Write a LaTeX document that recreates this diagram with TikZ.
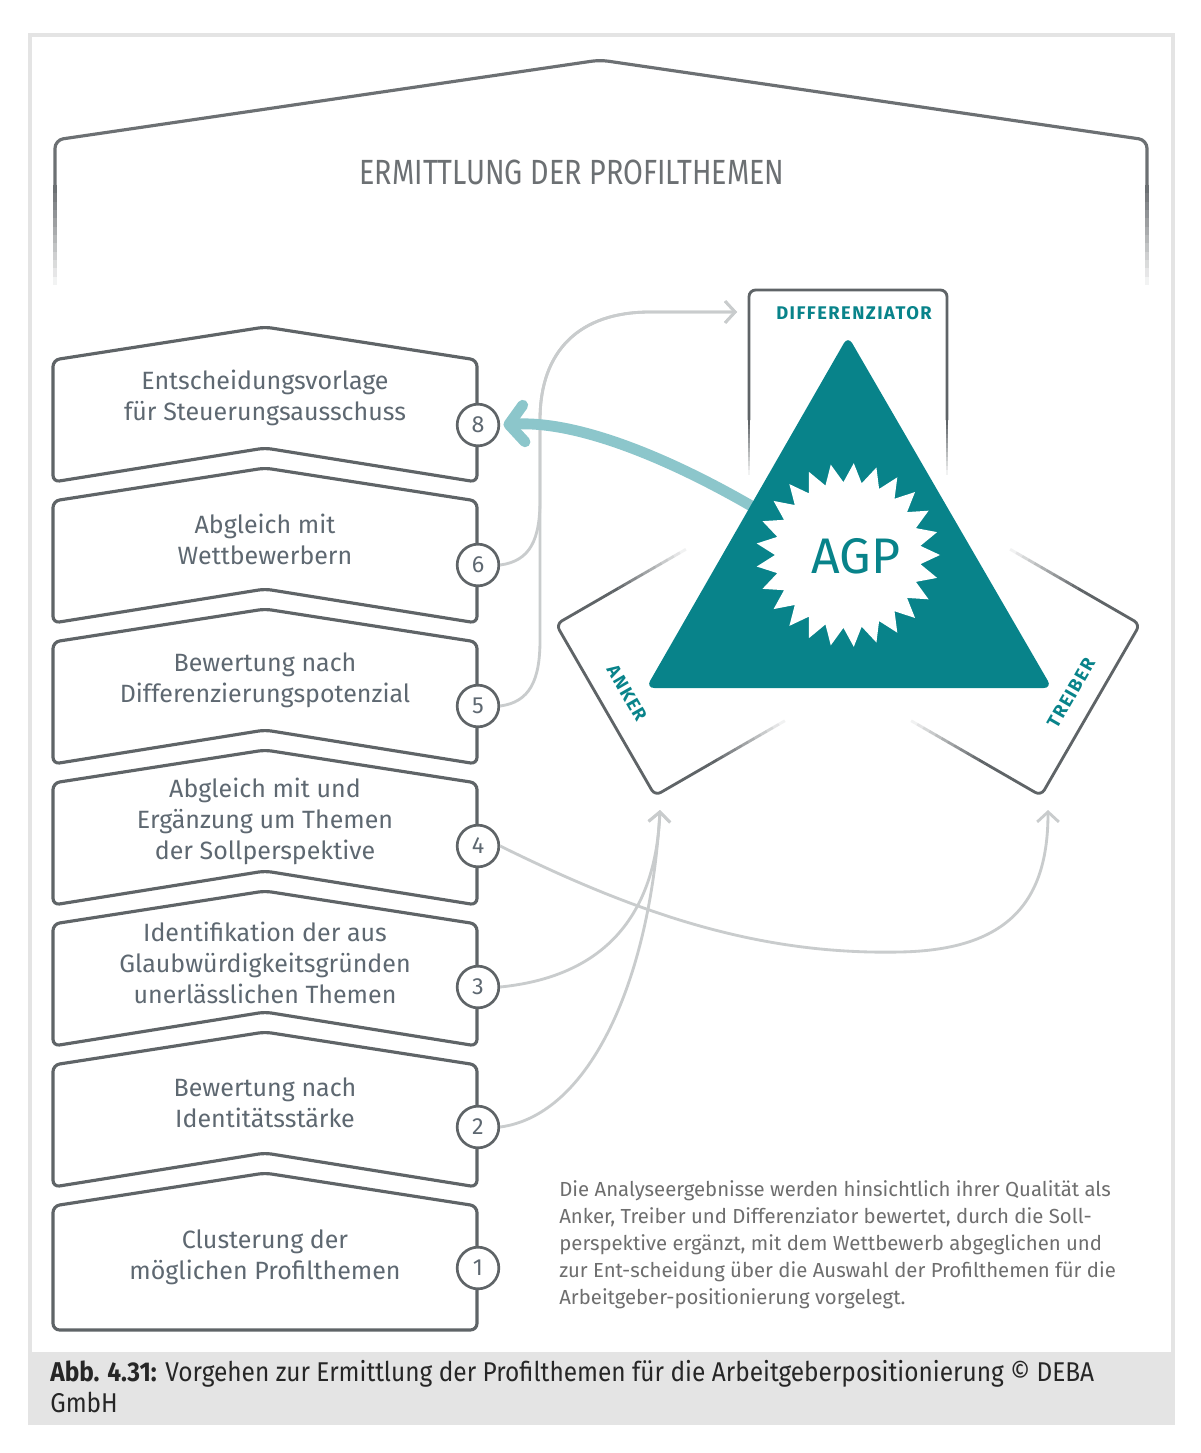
\documentclass[tikz,border=0pt]{standalone}
\usepackage{fontspec}
\setmainfont{Fira Sans}
\newfontfamily\condfont[FakeStretch=0.82]{Fira Sans}
\newfontfamily\capfont[FakeStretch=0.9]{Fira Sans}
\newfontfamily\lblfont[LetterSpace=8.0]{Fira Sans}
\usetikzlibrary{arrows.meta,calc}
\definecolor{agpteal}{HTML}{08838A}
\definecolor{lightteal}{HTML}{8CC6CB}
\definecolor{boxgray}{HTML}{5F6467}
\definecolor{roofgray}{HTML}{6C7073}
\definecolor{txtgray}{HTML}{5E6871}
\definecolor{conngray}{HTML}{C9CCCD}
\definecolor{framegray}{HTML}{E4E4E4}
\definecolor{descgray}{HTML}{6E6E6E}
\tikzset{
  stepbox/.style={draw=boxgray, line width=1.9pt, rounded corners=4pt, fill=white},
  numc/.style={circle, draw=boxgray, line width=1.6pt, fill=white, minimum size=25pt, inner sep=0pt, font=\fontsize{14}{14}\selectfont, text=txtgray},
  steptext/.style={align=center, font=\fontsize{15}{18.6}\selectfont, text=txtgray},
  conn/.style={draw=conngray, line width=1.7pt, -{Straight Barb[length=6pt,width=13pt]}},
  bigarrow/.style={draw=lightteal, line width=6.5pt, -{Straight Barb[round,length=9pt,width=22pt]}, shorten >=2pt},
  sidebox/.style={draw=boxgray, line width=1.7pt, rounded corners=4pt},
  sidelabel/.style={text=agpteal, font=\lblfont\bfseries\fontsize{11}{11}\selectfont, inner sep=1pt},
}
\newcommand\fadeseg[5]{%
  \foreach \i [evaluate=\i as \op using 1-\i/12, evaluate=\i as \ta using \i/12, evaluate=\i as \tb using (\i+1)/12] in {0,...,11}{
    \draw[#5, draw opacity=\op] ({#1+(#3-#1)*\ta},{#2+(#4-#2)*\ta}) -- ({#1+(#3-#1)*\tb},{#2+(#4-#2)*\tb});
  }}
\begin{document}
\begin{tikzpicture}[x=0.6pt,y=-0.6pt]
\useasboundingbox[fill=white] (0,0) rectangle (1200,1453);
% frame and caption band
\fill[framegray] (30,1352) rectangle (1173,1425);
\draw[framegray, line width=2pt] (30,1425) -- (30,35) -- (1173,35) -- (1173,1425);
% house roof
\draw[draw=roofgray, line width=1.9pt, rounded corners=5pt] (55,185) -- (55,140) -- (600,60) -- (1147,140) -- (1147,185);
\fadeseg{55}{185}{55}{285}{draw=roofgray, line width=1.9pt}
\fadeseg{1147}{185}{1147}{285}{draw=roofgray, line width=1.9pt}
\node[text=roofgray, font=\condfont\fontsize{21}{21}\selectfont] (title) at (572,172) {ERMITTLUNG DER PROFILTHEMEN};
% step boxes
\foreach \y in {327,468,609,750,891,1032}{
  \draw[stepbox] (265,\y) -- (477,{\y+33}) -- (477,{\y+155}) -- (265,{\y+121}) -- (53,{\y+155}) -- (53,{\y+33}) -- cycle;
}
\draw[stepbox] (265,1173) -- (477,1206) -- (477,1330) -- (53,1330) -- (53,1206) -- cycle;
\node[steptext] (s8) at (265,398) {Entscheidungsvorlage\\für Steuerungsausschuss};
\node[steptext] (s6) at (265,539) {Abgleich mit\\Wettbewerbern};
\node[steptext] (s5) at (265,680) {Bewertung nach\\Differenzierungspotenzial};
\node[steptext] (s4) at (265,821) {Abgleich mit und\\Ergänzung um Themen\\der Sollperspektive};
\node[steptext] (s3) at (265,963) {Identifikation der aus\\Glaubwürdigkeitsgründen\\unerlässlichen Themen};
\node[steptext] (s2) at (265,1103) {Bewertung nach\\Identitätsstärke};
\node[steptext] (s1) at (265,1257) {Clusterung der\\möglichen Profilthemen};
\node[numc] (c8) at (478,425) {8};
\node[numc] (c6) at (478,565) {6};
\node[numc] (c5) at (478,706) {5};
\node[numc] (c4) at (478,846) {4};
\node[numc] (c3) at (478,987) {3};
\node[numc] (c2) at (478,1127) {2};
\node[numc] (c1) at (478,1268) {1};
% target coordinates
\coordinate (dtip) at (737,312);
\coordinate (atip) at (660,810);
\coordinate (ttip) at (1048,810);
\coordinate (t8) at (775,520);
% side boxes
\begin{scope}[shift={(848,570)}]
  \draw[sidebox] (-99,-150) -- (-99,-280) -- (99,-280) -- (99,-150);
  \fadeseg{-99}{-150}{-99}{-95}{draw=boxgray, line width=1.7pt}
  \fadeseg{99}{-150}{99}{-95}{draw=boxgray, line width=1.7pt}
\end{scope}
\foreach \r in {120,-120}{
  \begin{scope}[shift={(848,570)}, rotate=\r]
    \draw[sidebox] (-99,-215) -- (-99,-280) -- (99,-280) -- (99,-215);
    \fadeseg{-99}{-215}{-99}{-130}{draw=boxgray, line width=1.7pt}
    \fadeseg{99}{-215}{99}{-130}{draw=boxgray, line width=1.7pt}
  \end{scope}
}
% gray connectors
\draw[conn] (c6.east) .. controls (530,561) and (540,540) .. (540,500) -- (540,420) .. controls (540,350) and (580,312) .. (650,312) -- (dtip);
\draw[conn] (c5.east) .. controls (530,702) and (540,680) .. (540,640) -- (540,420) .. controls (540,350) and (580,312) .. (650,312) -- (dtip);
\draw[conn] (c3.east) .. controls (590,978) and (655,930) .. (atip);
\draw[conn] (c2.east) .. controls (590,1115) and (650,980) .. (atip);
\draw[conn] (c4.east) .. controls (640,915) and (760,955) .. (900,952) .. controls (1010,950) and (1048,900) .. (ttip);
% big arrow
\draw[bigarrow] (t8) .. controls (680,462) and (580,420) .. (c8.east);
% triangle
\fill[agpteal, rounded corners=5pt] (848,336) -- (1052,688) -- (646,688) -- cycle;
\coordinate (st) at (848,555);
\fill[white] ($(st)+(0:92)$) \foreach \k in {0,...,24}{ -- ($(st)+({\k*14.4}:92)$) -- ($(st)+({\k*14.4+7.2}:73)$) } -- cycle;
\node[text=agpteal, font=\fontsize{30}{30}\selectfont] (agp) at (856,556) {AGP};
\node[sidelabel] (ldiff) at (854,313) {DIFFERENZIATOR};
\node[sidelabel, rotate=-60] (lanker) at (627,693) {ANKER};
\node[sidelabel, rotate=60] (ltreib) at (1071,693) {TREIBER};
% description
\node[anchor=north west, align=left, text=descgray, font=\fontsize{12.2}{16.2}\selectfont, inner sep=0pt] (desc) at (559,1180) {Die Analyseergebnisse werden hinsichtlich ihrer Qualität als\\Anker, Treiber und Differenziator bewertet, durch die Soll-\\perspektive ergänzt, mit dem Wettbewerb abgeglichen und\\zur Ent-scheidung über die Auswahl der Profilthemen für die\\Arbeitgeber-positionierung vorgelegt.};
% caption
\node[anchor=north west, align=left, text=black!85, font=\capfont\fontsize{16.3}{18.6}\selectfont, inner sep=0pt] (cap) at (50,1360) {\textbf{Abb. 4.31:} Vorgehen zur Ermittlung der Profilthemen für die Arbeitgeberpositionierung © DEBA\\GmbH};
\end{tikzpicture}
\end{document}
